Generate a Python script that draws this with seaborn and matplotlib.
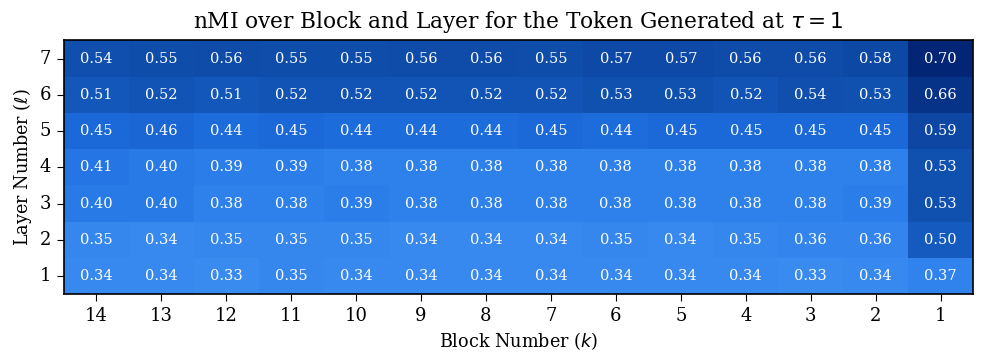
import numpy as np
import pandas as pd
import seaborn as sns
import matplotlib.pyplot as plt
from matplotlib.colors import LinearSegmentedColormap

# block numbers run 14 -> 1 left to right, layers 7 -> 1 top to bottom
blocks = [14, 13, 12, 11, 10, 9, 8, 7, 6, 5, 4, 3, 2, 1]
layers = [7, 6, 5, 4, 3, 2, 1]

layer7 = [0.54, 0.55, 0.56, 0.55, 0.55, 0.56, 0.56, 0.55, 0.57, 0.57, 0.56, 0.56, 0.58, 0.70]
layer6 = [0.51, 0.52, 0.51, 0.52, 0.52, 0.52, 0.52, 0.52, 0.53, 0.53, 0.52, 0.54, 0.53, 0.66]
layer5 = [0.45, 0.46, 0.44, 0.45, 0.44, 0.44, 0.44, 0.45, 0.44, 0.45, 0.45, 0.45, 0.45, 0.59]
layer4 = [0.41, 0.40, 0.39, 0.39, 0.38, 0.38, 0.38, 0.38, 0.38, 0.38, 0.38, 0.38, 0.38, 0.53]
layer3 = [0.40, 0.40, 0.38, 0.38, 0.39, 0.38, 0.38, 0.38, 0.38, 0.38, 0.38, 0.38, 0.39, 0.53]
layer2 = [0.35, 0.34, 0.35, 0.35, 0.35, 0.34, 0.34, 0.34, 0.35, 0.34, 0.35, 0.36, 0.36, 0.50]
layer1 = [0.34, 0.34, 0.33, 0.35, 0.34, 0.34, 0.34, 0.34, 0.34, 0.34, 0.34, 0.33, 0.34, 0.37]

df = pd.DataFrame([layer7, layer6, layer5, layer4, layer3, layer2, layer1],
                  index=layers, columns=blocks)

cmap = LinearSegmentedColormap.from_list(
    "nmi_blues",
    [(0.0, "#3a8bf0"), (0.15, "#2c7fea"), (0.32, "#1b69da"),
     (0.55, "#1050ae"), (0.75, "#0c43a0"), (1.0, "#022575")])

plt.rcParams['font.family'] = ['DejaVu Serif']
fig, ax = plt.subplots(figsize=(9.97, 3.61), dpi=100)
sns.heatmap(df, ax=ax, cmap=cmap, vmin=0.33, vmax=0.70, cbar=False,
            annot=True, fmt=".2f", annot_kws={"size": 10.5, "color": "white"})

ax.set_title(r"nMI over Block and Layer for the Token Generated at $\tau = 1$",
             fontsize=15.6, pad=9)
ax.set_xlabel(r"Block Number ($k$)", fontsize=12.7)
ax.set_ylabel(r"Layer Number ($\ell$)", fontsize=12.7)
ax.tick_params(axis='both', labelsize=13, length=5, pad=4)
ax.set_yticklabels(ax.get_yticklabels(), rotation=0)
for side in ax.spines.values():
    side.set_visible(True)
    side.set_linewidth(1.2)

fig.subplots_adjust(left=0.064, right=0.976, top=0.888, bottom=0.185)
fig.savefig("out.png", dpi=100)
